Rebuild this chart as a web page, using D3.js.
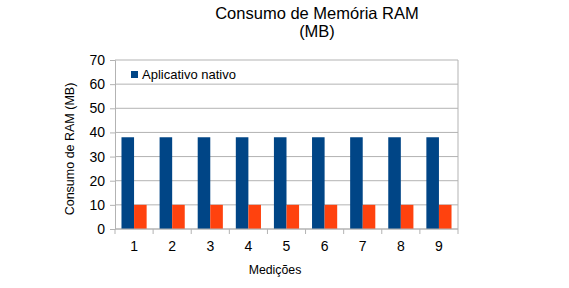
<!DOCTYPE html>
<html>
<head>
<meta charset="utf-8">
<script src="https://cdn.jsdelivr.net/npm/d3@7"></script>
<style>
  body { margin: 0; background: #fff; }
  text { font-family: "Liberation Sans", Arial, sans-serif; fill: #000; }
</style>
</head>
<body>
<div id="chart"></div>
<script>
// chart data
var categories = ["1", "2", "3", "4", "5", "6", "7", "8", "9"];
var seriesNames = ["Aplicativo nativo", "Aplicativo web"];
var nativo = [38, 38, 38, 38, 38, 38, 38, 38, 38];
var web = [10, 10, 10, 10, 10, 10, 10, 10, 10];
var yTicks = [0, 10, 20, 30, 40, 50, 60, 70];
var colors = ["#004586", "#ff420e"];

var width = 569, height = 288;
var margin = { top: 60, right: 111, bottom: 59, left: 115 };
var plotW = width - margin.left - margin.right,
    plotH = height - margin.top - margin.bottom;

var svg = d3.select("#chart")
    .append("svg")
    .attr("width", width)
    .attr("height", height);

var g = svg.append("g")
    .attr("transform", "translate(" + margin.left + "," + margin.top + ")");

var x = d3.scaleBand().domain(categories).range([0, plotW])
    .paddingInner(0.34).paddingOuter(0.17);
var xSub = d3.scaleBand().domain([0, 1]).range([0, x.bandwidth()]);
var y = d3.scaleLinear().domain([0, 70]).range([plotH, 0]);

// grid lines
g.selectAll(".grid")
    .data(yTicks)
    .join("line")
    .attr("x1", 0)
    .attr("x2", plotW)
    .attr("y1", function (d) { return y(d); })
    .attr("y2", function (d) { return y(d); })
    .attr("stroke", "#b3b3b3")
    .attr("stroke-width", 1);

// right border
g.append("line")
    .attr("x1", plotW).attr("x2", plotW)
    .attr("y1", 0).attr("y2", plotH)
    .attr("stroke", "#b3b3b3");

// bars
var rows = categories.map(function (c, i) { return { cat: c, vals: [nativo[i], web[i]] }; });
var groups = g.selectAll(".grp")
    .data(rows)
    .join("g")
    .attr("transform", function (d) { return "translate(" + x(d.cat) + ",0)"; });

groups.selectAll("rect")
    .data(function (d) { return d.vals.map(function (v, k) { return { k: k, v: v }; }); })
    .join("rect")
    .attr("x", function (d) { return xSub(d.k); })
    .attr("width", xSub.bandwidth())
    .attr("y", function (d) { return y(d.v); })
    .attr("height", function (d) { return plotH - y(d.v); })
    .attr("fill", function (d) { return colors[d.k]; });

// y axis
var yAxis = g.append("g")
    .call(d3.axisLeft(y).tickValues(yTicks).tickSize(5).tickPadding(5));
yAxis.selectAll("path, line").attr("stroke", "#b3b3b3");
yAxis.selectAll("text").style("font-size", "14px").style("font-family", "Liberation Sans, Arial, sans-serif");

// x axis with ticks at category boundaries
var xAxis = g.append("g")
    .attr("transform", "translate(0," + plotH + ")");
xAxis.append("line")
    .attr("x1", 0).attr("x2", plotW)
    .attr("stroke", "#b3b3b3");
var bounds = d3.range(categories.length + 1).map(function (i) { return i * x.step(); });
xAxis.selectAll(".xt")
    .data(bounds)
    .join("line")
    .attr("x1", function (d) { return d; })
    .attr("x2", function (d) { return d; })
    .attr("y1", 0).attr("y2", 5)
    .attr("stroke", "#b3b3b3");
xAxis.selectAll(".xl")
    .data(categories)
    .join("text")
    .attr("x", function (d) { return x(d) + x.bandwidth() / 2; })
    .attr("y", 22)
    .attr("text-anchor", "middle")
    .style("font-size", "14px")
    .text(function (d) { return d; });

// legend
var leg = g.append("g").attr("transform", "translate(16,11)");
leg.append("rect")
    .attr("width", 7).attr("height", 7)
    .attr("fill", colors[0]);
leg.append("text")
    .attr("x", 11).attr("y", 7.5)
    .style("font-size", "13px")
    .text(seriesNames[0]);

// titles
svg.append("text")
    .attr("x", 317).attr("y", 19)
    .attr("text-anchor", "middle")
    .style("font-size", "16.5px")
    .text("Consumo de Memória RAM");
svg.append("text")
    .attr("x", 317).attr("y", 37)
    .attr("text-anchor", "middle")
    .style("font-size", "16.5px")
    .text("(MB)");

svg.append("text")
    .attr("transform", "translate(74,149) rotate(-90)")
    .attr("text-anchor", "middle")
    .style("font-size", "12.5px")
    .text("Consumo de RAM (MB)");

svg.append("text")
    .attr("x", 275)
    .attr("y", 274)
    .attr("text-anchor", "middle")
    .style("font-size", "12.3px")
    .text("Medições");
</script>
</body>
</html>
